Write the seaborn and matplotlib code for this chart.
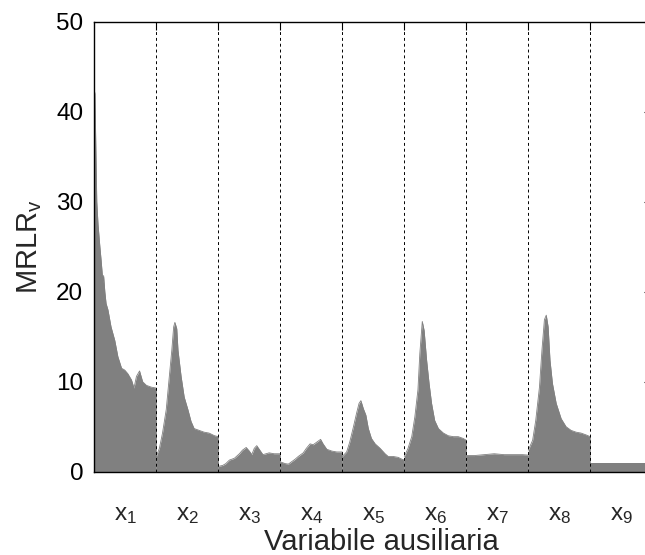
import numpy as np
import matplotlib
matplotlib.use("Agg")
import matplotlib.pyplot as plt
import seaborn as sns

# position inside each variable's block (0..1) and MRLR_v value
x1_pos = [0.0, 0.01, 0.02, 0.04, 0.06, 0.09, 0.11, 0.14, 0.15, 0.17, 0.19, 0.22, 0.27,
          0.33, 0.38, 0.44, 0.49, 0.54, 0.60, 0.64, 0.68, 0.73, 0.78, 0.84, 0.92, 1.0]
x1_val = [42.4, 42.0, 38.0, 30.0, 27.5, 25.0, 23.5, 21.0, 21.8, 20.0, 18.7, 18.0, 16.1,
          14.6, 12.8, 11.5, 11.3, 10.9, 10.2, 9.3, 10.6, 11.2, 10.0, 9.6, 9.4, 9.3]

x2_pos = [0.0, 0.01, 0.05, 0.10, 0.16, 0.21, 0.25, 0.28, 0.30, 0.33, 0.35, 0.40, 0.45,
          0.51, 0.56, 0.61, 0.69, 0.77, 0.85, 0.94, 1.0]
x2_val = [1.6, 1.9, 2.6, 4.3, 6.9, 10.6, 13.5, 16.1, 16.6, 15.9, 13.5, 10.6, 8.3,
          6.9, 5.6, 4.8, 4.6, 4.4, 4.3, 4.0, 3.9]

x3_pos = [0.0, 0.07, 0.12, 0.18, 0.26, 0.34, 0.39, 0.45, 0.50, 0.54, 0.58, 0.62, 0.66,
          0.72, 0.77, 0.82, 0.90, 1.0]
x3_val = [0.6, 0.7, 0.9, 1.3, 1.5, 2.0, 2.4, 2.7, 2.3, 1.9, 2.6, 2.9, 2.5,
          1.9, 2.0, 2.1, 2.0, 2.0]

x4_pos = [0.0, 0.08, 0.13, 0.18, 0.24, 0.29, 0.37, 0.42, 0.48, 0.53, 0.59, 0.65, 0.69,
          0.75, 0.83, 0.91, 1.0]
x4_val = [1.1, 0.9, 0.85, 1.1, 1.4, 1.7, 2.1, 2.6, 3.1, 3.0, 3.3, 3.6, 3.1,
          2.5, 2.3, 2.2, 2.2]

x5_pos = [0.0, 0.07, 0.12, 0.18, 0.23, 0.27, 0.30, 0.34, 0.38, 0.42, 0.47, 0.53, 0.61,
          0.69, 0.74, 0.82, 0.90, 0.96, 1.0]
x5_val = [1.7, 2.2, 3.3, 5.0, 6.5, 7.6, 7.9, 7.0, 6.3, 4.8, 3.7, 3.1, 2.6,
          2.0, 1.7, 1.7, 1.6, 1.4, 1.3]

x6_pos = [0.0, 0.06, 0.12, 0.17, 0.22, 0.25, 0.29, 0.32, 0.36, 0.40, 0.44, 0.49, 0.55,
          0.63, 0.71, 0.79, 0.87, 0.95, 1.0]
x6_val = [1.7, 2.6, 3.9, 6.1, 9.1, 13.1, 16.7, 15.7, 12.4, 9.8, 7.6, 5.7, 4.8,
          4.3, 4.0, 3.9, 3.9, 3.7, 3.5]

x7_pos = [0.0, 0.13, 0.29, 0.45, 0.61, 0.77, 0.91, 1.0]
x7_val = [1.8, 1.8, 1.9, 2.0, 1.9, 1.9, 1.9, 1.85]

x8_pos = [0.0, 0.07, 0.12, 0.18, 0.22, 0.26, 0.29, 0.32, 0.35, 0.39, 0.45, 0.53, 0.61,
          0.69, 0.77, 0.85, 0.93, 1.0]
x8_val = [2.4, 3.5, 5.7, 9.4, 13.5, 16.9, 17.4, 16.1, 12.4, 9.8, 7.6, 5.9, 5.0,
          4.6, 4.4, 4.3, 4.1, 3.9]

x9_pos = [0.0, 0.5, 1.0]
x9_val = [1.0, 1.0, 1.0]

blocks = [(x1_pos, x1_val), (x2_pos, x2_val), (x3_pos, x3_val), (x4_pos, x4_val),
          (x5_pos, x5_val), (x6_pos, x6_val), (x7_pos, x7_val), (x8_pos, x8_val),
          (x9_pos, x9_val)]
tick_labels = [r'$\mathregular{x_%d}$' % (i + 1) for i in range(9)]

sns.set_style("white")
plt.rcParams['font.family'] = ['Liberation Sans', 'DejaVu Sans']

fig = plt.figure(figsize=(6.45, 5.55), dpi=100)
ax = fig.add_axes([0.1462, 0.150, 0.8651, 0.8108])

gray = '#808080'
for k, (pos, val) in enumerate(blocks):
    xs = k + np.asarray(pos)
    ax.fill_between(xs, 0, val, color=gray, linewidth=0)
    sns.lineplot(x=xs, y=val, color=gray, linewidth=0.6, estimator=None, sort=False, ax=ax)

for b in range(1, 9):
    ax.axvline(b, color='black', linewidth=0.7, linestyle=(0, (3, 3)))

ax.set_xlim(0, 9)
ax.set_ylim(0, 50)
ax.set_yticks(range(0, 51, 10))
ax.set_xticks(range(1, 9))
ax.set_xticklabels([])
ax.set_xticks(np.arange(9) + 0.5, minor=True)
ax.set_xticklabels(tick_labels, minor=True)

ax.tick_params(axis='both', which='major', direction='in', length=5.5, width=0.8,
               top=True, right=True, labelsize=17.5, colors='black')
ax.tick_params(axis='y', pad=8)
ax.tick_params(axis='x', which='minor', length=0, labelsize=17.5, pad=23)

for s in ax.spines.values():
    s.set_color('black')
    s.set_linewidth(1.0)

ax.set_xlabel('Variabile ausiliaria', fontsize=21)
ax.set_ylabel(r'$\mathregular{MRLR_v}$', fontsize=21)
ax.xaxis.set_label_coords(0.515, -0.125)
ax.yaxis.set_label_coords(-0.09, 0.5)

fig.savefig('out.png', dpi=100)
